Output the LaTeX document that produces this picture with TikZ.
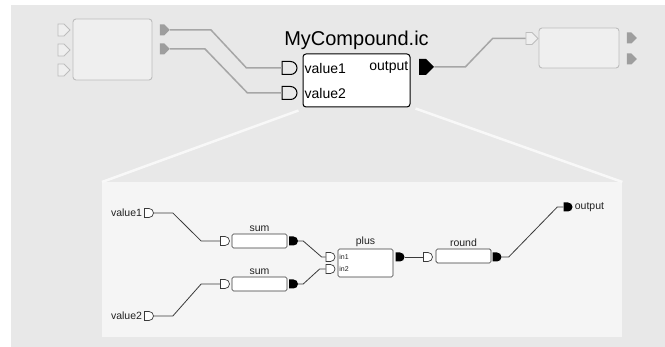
\documentclass[tikz,border=0pt]{standalone}
\usepackage{fontspec}
\setmainfont{Liberation Sans}
\usetikzlibrary{positioning, shapes.misc, shapes.symbols}
\definecolor{bg}       {HTML}{E8E8E8}
\definecolor{panelfill}{HTML}{F5F5F5}
\definecolor{ghost}    {HTML}{EFEFEF}
\definecolor{ghostline}{HTML}{BDBDBD}
\definecolor{wiregray} {HTML}{A6A6A6}
\definecolor{portgray} {HTML}{9E9E9E}
\definecolor{ink}      {HTML}{222222}
\definecolor{wireink}  {HTML}{3A3A3A}
\definecolor{zoomline} {HTML}{F8F8F8}
\tikzset{
  ghostbox/.style = {draw=ghostline, fill=ghost, rounded corners=3pt,
                     line width=0.9pt, inner sep=0pt},
  ginport/.style  = {signal, signal to=east, draw=ghostline, fill=ghost,
                     line width=0.8pt, minimum width=12pt, minimum height=12pt,
                     inner sep=0pt},
  goutport/.style = {signal, signal to=east, fill=portgray,
                     minimum width=10pt, minimum height=11pt, inner sep=0pt},
  cinport/.style  = {rounded rectangle, rounded rectangle left arc=none,
                     draw=black, fill=bg, line width=1pt,
                     minimum width=15pt, minimum height=13pt, inner sep=0pt},
  coutport/.style = {signal, signal to=east, fill=black,
                     minimum width=15pt, minimum height=16pt, inner sep=0pt},
  compbox/.style  = {draw=black, fill=white, rounded corners=3pt, line width=1pt,
                     minimum width=107pt, minimum height=53pt, inner sep=0pt},
  sinport/.style  = {rounded rectangle, rounded rectangle left arc=none,
                     draw=wireink, fill=white, line width=0.7pt,
                     minimum width=9pt, minimum height=9pt, inner sep=0pt},
  soutport/.style = {rounded rectangle, rounded rectangle left arc=none,
                     fill=black, minimum width=9pt, minimum height=9pt, inner sep=0pt},
  block/.style    = {draw=wireink, fill=white, rounded corners=1.5pt,
                     line width=0.7pt, minimum width=55pt, minimum height=14pt,
                     inner sep=0pt},
  panelbox/.style = {fill=panelfill, inner sep=0pt, minimum width=520pt,
                     minimum height=155pt},
  gwire/.style    = {draw=wiregray, line width=1.5pt},
  wire/.style     = {draw=wireink, line width=0.8pt},
  zoom/.style     = {draw=zoomline, line width=2.5pt},
  title/.style    = {font=\fontsize{20}{24}\selectfont, text=black, inner sep=1pt},
  clbl/.style     = {font=\fontsize{14}{16}\selectfont, text=black, inner sep=2pt},
  lbl/.style      = {font=\fontsize{10.5}{12}\selectfont, text=ink, inner sep=1pt},
  tinylbl/.style  = {font=\fontsize{7}{8}\selectfont, text=ink, inner sep=1.5pt},
}

\begin{document}
\begin{tikzpicture}[x=1pt, y=-1pt]
  \useasboundingbox (0,0) rectangle (665,347);
  \fill[bg] (11,5) rectangle (665,347);

  % --- outer level: neighbours and compound ---
  \node[ghostbox, minimum width=79pt, minimum height=61pt] (lbox) at (112.5,49.5) {};
  \node[ginport]  (li1) at (61,30) {};
  \node[ginport]  (li2) at (61,50) {};
  \node[ginport]  (li3) at (61,70) {};
  \node[goutport] (lo1) at (162,30) {};
  \node[goutport] (lo2) at (162,49) {};

  \node[compbox] (comp) at (356.5,80.5) {};
  \node[title, above=3pt of comp] (ctitle) {MyCompound.ic};
  \node[cinport]  (ci1) at (289.5,68) {};
  \node[cinport]  (ci2) at (289.5,93) {};
  \node[coutport] (co)  at (422.5,67) {};
  \node[clbl, anchor=west] (cv1) at (comp.west |- ci1) {value1};
  \node[clbl, anchor=west] (cv2) at (comp.west |- ci2) {value2};
  \node[clbl, anchor=east] (cout) at (comp.east |- co) {output};

  \node[ghostbox, minimum width=80pt, minimum height=40pt] (rbox) at (579,48) {};
  \node[ginport]  (ri)  at (529,38.5) {};
  \node[goutport] (ro1) at (629,38) {};
  \node[goutport] (ro2) at (629,59) {};

  \draw[gwire] (lo1.east) -- ++(41,0) -- ([xshift=-35pt]ci1.west) -- (ci1.west);
  \draw[gwire] (lo2.east) -- ++(35,0) -- ([xshift=-34pt]ci2.west) -- (ci2.west);
  \draw[gwire] (co.east)  -- ++(31,0) -- ([xshift=-33pt]ri.west)  -- (ri.west);

  % --- zoomed inside ---
  \node[panelbox, anchor=north west] (panel) at (102,182) {};
  \draw[zoom] ([shift={(-4,3)}]comp.south west) -- (panel.north west);
  \draw[zoom] ([shift={(5,1)}]comp.south east) -- (panel.north east);

  \node[sinport] (v1p) at (149,213) {};
  \node[lbl, left=1pt of v1p] (v1l) {value1};
  \node[sinport] (v2p) at (149,316) {};
  \node[lbl, left=1pt of v2p] (v2l) {value2};

  \node[block] (sum1) at (259.5,241) {};
  \node[lbl, above=1pt of sum1] {sum};
  \node[sinport]  (s1i) at (225,241) {};
  \node[soutport] (s1o) at (293.5,241) {};

  \node[block] (sum2) at (259.5,284) {};
  \node[lbl, above=1pt of sum2] {sum};
  \node[sinport]  (s2i) at (225,284) {};
  \node[soutport] (s2o) at (293.5,284) {};

  \node[block, minimum height=28pt] (plus) at (365.5,263) {};
  \node[lbl, above=1pt of plus] {plus};
  \node[sinport]  (pi1) at (330.5,257) {};
  \node[sinport]  (pi2) at (330.5,269) {};
  \node[soutport] (po)  at (400,257) {};
  \node[tinylbl, anchor=west] at (plus.west |- pi1) {in1};
  \node[tinylbl, anchor=west] at (plus.west |- pi2) {in2};

  \node[block] (round) at (463.5,256) {};
  \node[lbl, above=1pt of round] {round};
  \node[sinport]  (ri1) at (428,257) {};
  \node[soutport] (ro)  at (497,257) {};

  \node[soutport] (outp) at (568,207) {};
  \node[lbl, right=1pt of outp] (outl) {output};

  \draw[wire] (v1p.east) -- ++(19,0) -- ([xshift=-19pt]s1i.west) -- (s1i.west);
  \draw[wire] (v2p.east) -- ++(19,0) -- ([xshift=-19pt]s2i.west) -- (s2i.west);
  \draw[wire] (s1o.east) -- ++(5,0)  -- ([xshift=-4pt]pi1.west) -- (pi1.west);
  \draw[wire] (s2o.east) -- ++(5,0)  -- ([xshift=-6pt]pi2.west) -- (pi2.west);
  \draw[wire] (po.east)  -- (ri1.west);
  \draw[wire] (ro.east)  -- ++(7,0)  -- ([xshift=-6pt]outp.west) -- (outp.west);

\end{tikzpicture}
\end{document}
